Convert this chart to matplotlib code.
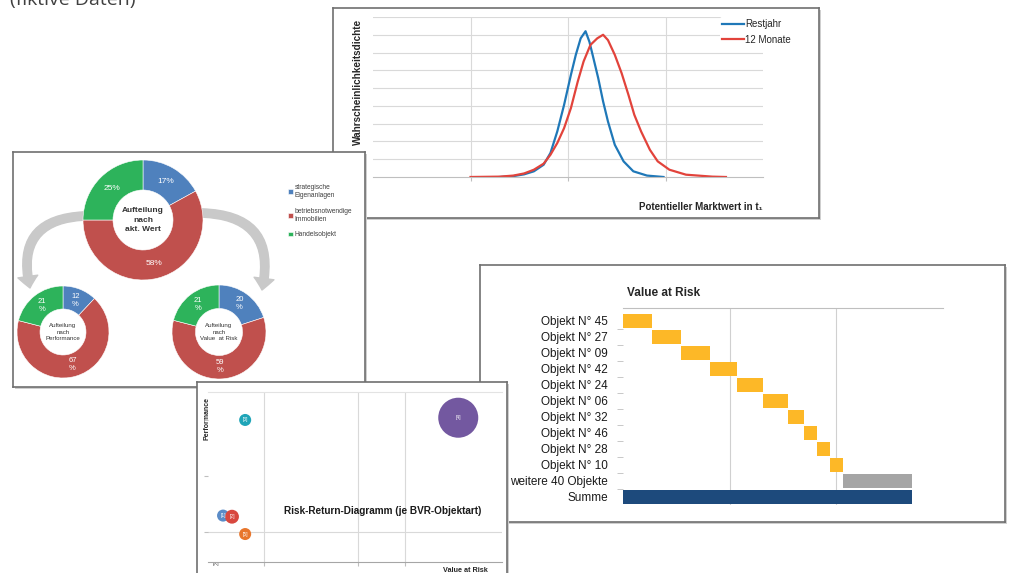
import matplotlib
matplotlib.use("Agg")
import matplotlib.pyplot as plt
from matplotlib.patches import FancyArrowPatch
import numpy as np

plt.rcParams['font.family'] = ['Liberation Sans', 'DejaVu Sans']

W, H = 1010, 573

# density curves
rest_x = [1.30, 1.44, 1.55, 1.65, 1.75, 1.82, 1.89, 1.96, 2.03, 2.08, 2.13, 2.18,
          2.22, 2.26, 2.31, 2.36, 2.41, 2.48, 2.57, 2.67, 2.81, 2.98]
rest_y = [0.0, 0.05, 0.15, 0.32, 0.69, 1.35, 2.56, 4.06, 5.75, 6.87, 7.8, 8.2,
          7.6, 6.7, 5.56, 4.25, 3.12, 1.81, 0.88, 0.32, 0.08, 0.0]
mon_x = [1.00, 1.30, 1.44, 1.55, 1.65, 1.75, 1.82, 1.89, 1.96, 2.03, 2.10, 2.16,
         2.23, 2.30, 2.36, 2.41, 2.48, 2.55, 2.62, 2.68, 2.75, 2.84, 2.92, 3.04,
         3.21, 3.48, 3.62]
mon_y = [0.0, 0.02, 0.08, 0.2, 0.41, 0.75, 1.25, 1.91, 2.75, 3.88, 5.37, 6.5,
         7.43, 7.8, 8.0, 7.7, 6.87, 5.84, 4.62, 3.5, 2.56, 1.53, 0.88, 0.41,
         0.13, 0.02, 0.0]

# doughnuts
seg_labels = ["strategische\nEigenanlagen", "betriebsnotwendige\nImmobilien", "Handelsobjekt"]
seg_colors = ["#4F81BD", "#C0504D", "#2DB35B"]
share_wert = [17, 58, 25]
share_perf = [12, 67, 21]
share_var = [20, 59, 21]

# value at risk waterfall
var_names = ["Objekt N° 45", "Objekt N° 27", "Objekt N° 09", "Objekt N° 42",
             "Objekt N° 24", "Objekt N° 06", "Objekt N° 32", "Objekt N° 46",
             "Objekt N° 28", "Objekt N° 10", "weitere 40 Objekte"]
var_values = [0.27, 0.275, 0.275, 0.245, 0.245, 0.24, 0.145, 0.125, 0.12, 0.125, 0.645]

# risk-return bubbles
bub_names = ["[1]", "[2]", "[3]", "[4]", "[5]"]
bub_risk = [0.13, 0.32, 0.6, 5.13, 0.6]
bub_perf = [0.29, 0.27, 2.0, 2.04, -0.04]
bub_size = [75, 100, 75, 830, 75]
bub_colors = ["#5B8CC8", "#D8483F", "#1FA5B8", "#7358A0", "#E8762C"]

fig = plt.figure(figsize=(W / 100, H / 100), dpi=100)


def box(x0, y0, x1, y1):
    return [x0 / W, 1 - y1 / H, (x1 - x0) / W, (y1 - y0) / H]


def frame(x0, y0, x1, y1, z):
    # soft shadow to the lower right, then the white panel
    sh = fig.add_axes(box(x0 + 2, y0 + 2, x1 + 2, y1 + 2), zorder=z - 0.05)
    sh.set_facecolor('#CFCFCF')
    sh.set_xticks([])
    sh.set_yticks([])
    for s in sh.spines.values():
        s.set_visible(False)
    ax = fig.add_axes(box(x0, y0, x1, y1), zorder=z)
    ax.set_xticks([])
    ax.set_yticks([])
    for s in ax.spines.values():
        s.set_color('#6f6f6f')
        s.set_linewidth(1.2)
    return ax


def ptext(ax, x, y, s, **kw):
    return ax.text(x / W, 1 - y / H, s, transform=fig.transFigure, **kw)


fig.text(10 / W, 1 - 5 / H, "(fiktive Daten)", fontsize=14, color='#404040',
         va='baseline', family=['Open Sans', 'DejaVu Sans'])

# --- density panel ---
fr1 = frame(333, 8, 819, 218, 1)
ax1 = fig.add_axes(box(373, 17, 763, 177), zorder=1.1)
ax1.plot(rest_x, rest_y, color='#1F78B8', lw=1.6, label='Restjahr')
ax1.plot(mon_x, mon_y, color='#E2433B', lw=1.6, label='12 Monate')
ax1.set_xlim(0, 4)
ax1.set_ylim(0, 9)
ax1.set_xticks([1, 2, 3])
ax1.set_yticks(range(1, 10))
ax1.grid(color='#D9D9D9', lw=0.8)
ax1.set_axisbelow(True)
ax1.tick_params(labelbottom=False, labelleft=False, left=False,
                length=3, color='#BFBFBF')
for s in ['top', 'right', 'left']:
    ax1.spines[s].set_visible(False)
ax1.spines['bottom'].set_color('#BFBFBF')
leg = ax1.legend(loc='upper left', bbox_to_anchor=((720 - 373) / 390, 1.0),
                 fontsize=7, frameon=True, facecolor='white', edgecolor='none',
                 framealpha=1, borderpad=0.25, borderaxespad=0, handlelength=2.2,
                 handletextpad=0.15, labelspacing=0.55)
for t in leg.get_texts():
    t.set_color('#262626')
ptext(fr1, 358, 82, "Wahrscheinlichkeitsdichte", rotation=90, fontsize=7.2,
      weight='bold', ha='center', va='center', color='#262626')
ptext(fr1, 763, 207, "Potentieller Marktwert in t₁", fontsize=7, weight='bold',
      ha='right', va='center', color='#262626')

# --- doughnut panel ---
fr2 = frame(13, 152, 365, 387, 2)


def donut(cx, cy, r, vals, title, fs_pct, fs_title, weight, fmt):
    ax = fig.add_axes(box(cx - r, cy - r, cx + r, cy + r), zorder=2.1)
    wedges, _, _ = ax.pie(vals, colors=seg_colors, startangle=90, counterclock=False,
                          radius=1, autopct=fmt, pctdistance=0.74,
                          wedgeprops=dict(width=0.5, edgecolor='white', linewidth=0.4),
                          textprops=dict(color='white', fontsize=fs_pct))
    ax.set_xlim(-1, 1)
    ax.set_ylim(-1, 1)
    ax.set_aspect('equal')
    ax.axis('off')
    ax.text(0, 0, title, ha='center', va='center', fontsize=fs_title,
            weight=weight, color='#333333', linespacing=1.5)
    return wedges


wedges = donut(143, 220, 60, share_wert, "Aufteilung\nnach\nakt. Wert", 6, 6,
               'bold', lambda p: f"{p:.0f}%")
donut(63, 332, 46, share_perf, "Aufteilung\nnach\nPerformance", 5.5, 4.4,
      'normal', lambda p: f"{p:.0f}\n%")
donut(219, 332, 47, share_var, "Aufteilung\nnach\nValue  at Risk", 5.5, 4.4,
      'normal', lambda p: f"{p:.0f}\n%")

leg2 = fr2.legend(wedges, seg_labels, loc='upper left',
                  bbox_to_anchor=(288 / W, 1 - 184 / H), bbox_transform=fig.transFigure,
                  frameon=False, fontsize=4.8, handlelength=0.7, handleheight=0.7,
                  handletextpad=0.3, labelspacing=1.3, borderpad=0, borderaxespad=0)
for t in leg2.get_texts():
    t.set_color('#404040')

arrow_style = 'simple,head_length=0.7,head_width=1.2,tail_width=0.5'
for (xa, ya), (xb, yb), rad in [((84, 216), (30, 288), 0.6),
                                ((202, 213), (262, 290), -0.6)]:
    fr2.add_patch(FancyArrowPatch((xa / W, 1 - ya / H), (xb / W, 1 - yb / H),
                                  transform=fig.transFigure,
                                  connectionstyle=f'arc3,rad={rad}',
                                  arrowstyle=arrow_style, mutation_scale=12,
                                  shrinkA=0, shrinkB=0, color='#C9C9C9',
                                  clip_on=False))

# --- value at risk panel ---
fr3 = frame(480, 265, 1005, 522, 3)
ax3 = fig.add_axes(box(623, 308, 943, 505), zorder=3.1)
rows = np.arange(len(var_values) + 1)
lefts = np.concatenate([[0], np.cumsum(var_values)[:-1]])
bar_colors = ['#FDB827'] * (len(var_values) - 1) + ['#A5A5A5']
ax3.barh(rows[:-1], var_values, left=lefts, height=0.9, color=bar_colors)
ax3.barh(rows[-1], sum(var_values), height=0.9, color='#1D4A7C')
ax3.set_xlim(0, 3)
ax3.set_ylim(11.5, -0.8)
ax3.set_yticks(rows, var_names + ["Summe"])
ax3.set_yticks(rows[:-1] + 0.5, minor=True)
ax3.tick_params(axis='y', which='major', length=0, pad=11, labelsize=8.5,
                labelcolor='#1a1a1a')
ax3.tick_params(axis='y', which='minor', length=4, color='#BFBFBF')
ax3.set_xticks([1, 2])
ax3.tick_params(axis='x', labelbottom=False, length=0)
ax3.grid(axis='x', color='#D0D0D0', lw=0.8)
ax3.set_axisbelow(True)
for s in ['bottom', 'right', 'left']:
    ax3.spines[s].set_visible(False)
ax3.spines['top'].set_color('#BFBFBF')
ptext(fr3, 627, 293, "Value at Risk", fontsize=8.5, weight='bold', ha='left',
      va='center', color='#262626')

# --- risk-return panel ---
fr4 = frame(197, 382, 507, 600, 4)
ax4 = fig.add_axes(box(208, 392, 502, 562), zorder=4.1)
ax4.scatter(bub_risk, bub_perf, s=bub_size, c=bub_colors, edgecolors='none', zorder=3)
for name, x, y in zip(bub_names, bub_risk, bub_perf):
    ax4.text(x, y, name, fontsize=3.5, color='white', ha='center', va='center', zorder=4)
ax4.set_xlim(-0.19, 6.06)
ax4.set_ylim(-0.54, 2.5)
ax4.set_xticks([1, 3, 4])
ax4.set_yticks([0, 1, 2])
ax4.grid(axis='x', color='#D9D9D9', lw=0.8)
ax4.axhline(0, color='#D9D9D9', lw=0.8, zorder=1)
ax4.tick_params(labelbottom=False, labelleft=False, length=3, color='#BFBFBF')
ax4.spines['left'].set_visible(False)
ax4.spines['right'].set_visible(False)
ax4.spines['top'].set_color('#E3E3E3')
ax4.spines['bottom'].set_color('#A6A6A6')
ax4.text(0.595, 0.3, "Risk-Return-Diagramm (je BVR-Objektart)", transform=ax4.transAxes,
         fontsize=7.2, weight='bold', ha='center', va='center', color='#1a1a1a')
ptext(fr4, 207, 418, "Performance", rotation=90, fontsize=5, weight='bold',
      ha='center', va='center', color='#262626')
ptext(fr4, 488, 570, "Value at Risk", fontsize=5.2, weight='bold', ha='right',
      va='center', color='#262626')
ptext(fr4, 216, 563, "[X]", fontsize=4, ha='center', va='center', color='#595959')

fig.savefig('out.png', dpi=100)
